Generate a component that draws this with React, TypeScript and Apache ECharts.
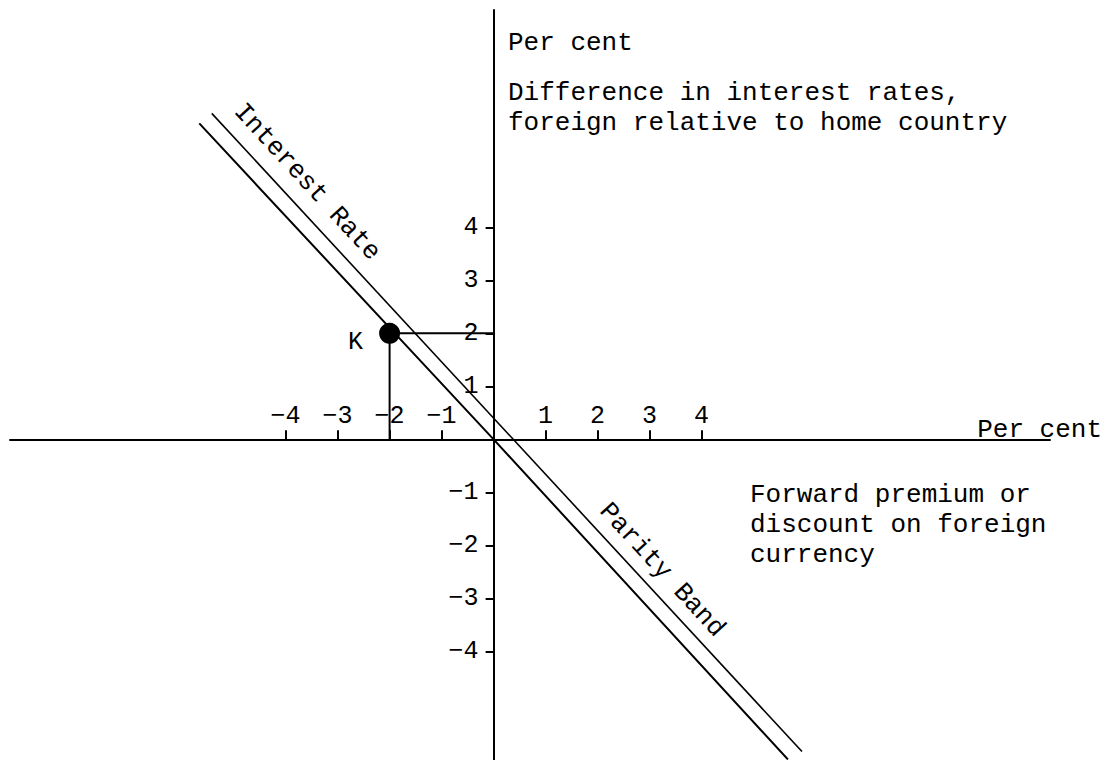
import React, { useEffect, useRef } from "react";
import * as echarts from "echarts";

// Tick values on each axis
const xTicks = [-4, -3, -2, -1, 1, 2, 3, 4];
const yTicks = [-4, -3, -2, -1, 1, 2, 3, 4];

// Two parallel lines of the interest rate parity band
const lowerBand = [
  [-5.66, 5.96],
  [0, 0],
  [5.66, -6.04],
];
const upperBand = [
  [-5.42, 6.15],
  [5.93, -5.89],
];

// Point K and its guide lines to the axes
const pointK = [-2, 2];
const guideK = [
  [-2, 0],
  [-2, 2],
  [0, 2],
];

const X_MIN = -9.3;
const X_MAX = 10.7;
const Y_MIN = -6.05;
const Y_MAX = 8.1;

const FONT = "'Liberation Mono', 'DejaVu Sans Mono', monospace";

const fmt = (v: number) => (v < 0 ? "\u2212" + Math.abs(v) : String(v));

export default function App() {
  const ref = useRef<HTMLDivElement>(null);

  useEffect(() => {
    if (!ref.current) return;
    const chart = echarts.init(ref.current, undefined, { renderer: "svg" });
    const black = "#000";
    const gLeft = 10;
    const gTop = 10;
    const gW = 1040;
    const gH = 750;
    // move axes so that they cross at the origin
    const xAxisOffset = -(gH * (0 - Y_MIN)) / (Y_MAX - Y_MIN);
    const yAxisOffset = -(gW * (0 - X_MIN)) / (X_MAX - X_MIN);
    chart.setOption({
      animation: false,
      backgroundColor: "#fff",
      grid: {
        left: gLeft,
        top: gTop,
        width: gW,
        height: gH,
        containLabel: false,
        outerBoundsMode: "none",
      },
      xAxis: {
        type: "value",
        position: "bottom",
        offset: xAxisOffset,
        min: X_MIN,
        max: X_MAX,
        splitLine: { show: false },
        axisLine: { show: true, onZero: false, lineStyle: { color: black, width: 2 } },
        axisTick: {
          show: true,
          inside: true,
          length: 9,
          customValues: xTicks,
          lineStyle: { color: black, width: 2 },
        },
        axisLabel: {
          show: true,
          inside: true,
          margin: 10,
          customValues: xTicks,
          formatter: fmt,
          color: black,
          fontSize: 25,
          fontFamily: FONT,
        },
      },
      yAxis: {
        type: "value",
        position: "left",
        offset: yAxisOffset,
        min: Y_MIN,
        max: Y_MAX,
        splitLine: { show: false },
        axisLine: { show: true, onZero: false, lineStyle: { color: black, width: 2 } },
        axisTick: {
          show: true,
          length: 8,
          customValues: yTicks,
          lineStyle: { color: black, width: 2 },
        },
        axisLabel: {
          show: true,
          margin: 15,
          customValues: yTicks,
          formatter: fmt,
          color: black,
          fontSize: 25,
          fontFamily: FONT,
        },
      },
      series: [
        {
          type: "line",
          data: lowerBand,
          showSymbol: false,
          clip: false,
          lineStyle: { color: black, width: 2 },
          silent: true,
        },
        {
          type: "line",
          data: upperBand,
          showSymbol: false,
          clip: false,
          lineStyle: { color: black, width: 1.6 },
          silent: true,
        },
        {
          type: "line",
          data: guideK,
          showSymbol: false,
          lineStyle: { color: black, width: 2 },
          silent: true,
        },
        {
          type: "scatter",
          data: [pointK],
          symbolSize: 21,
          itemStyle: { color: black, opacity: 1 },
          label: {
            show: true,
            position: "left",
            distance: 16,
            formatter: "K",
            color: black,
            fontSize: 25,
            fontFamily: FONT,
            offset: [0, 9],
          },
        },
      ],
      graphic: [
        {
          type: "text",
          x: 508,
          y: 43,
          style: {
            text: "Per cent",
            fill: black,
            fontSize: 26,
            fontFamily: FONT,
            textVerticalAlign: "middle",
          },
        },
        {
          type: "text",
          x: 508,
          y: 108,
          style: {
            text: "Difference in interest rates,\nforeign relative to home country",
            fill: black,
            fontSize: 26,
            lineHeight: 30,
            fontFamily: FONT,
            textVerticalAlign: "middle",
          },
        },
        {
          type: "text",
          x: 1102,
          y: 430,
          style: {
            text: "Per cent",
            fill: black,
            fontSize: 26,
            fontFamily: FONT,
            textAlign: "right",
            textVerticalAlign: "middle",
          },
        },
        {
          type: "text",
          x: 750,
          y: 525,
          style: {
            text: "Forward premium or\ndiscount on foreign\ncurrency",
            fill: black,
            fontSize: 26,
            lineHeight: 30,
            fontFamily: FONT,
            textVerticalAlign: "middle",
          },
        },
        {
          type: "text",
          x: 307,
          y: 182,
          rotation: -0.827,
          style: {
            text: "Interest Rate",
            fill: black,
            fontSize: 26,
            fontFamily: FONT,
            textAlign: "center",
            textVerticalAlign: "middle",
          },
        },
        {
          type: "text",
          x: 662,
          y: 570,
          rotation: -0.827,
          style: {
            text: "Parity Band",
            fill: black,
            fontSize: 26,
            fontFamily: FONT,
            textAlign: "center",
            textVerticalAlign: "middle",
          },
        },
      ],
    });
    return () => chart.dispose();
  }, []);

  return (
    <div
      ref={ref}
      style={{ position: "fixed", left: 0, top: 0, width: 1108, height: 760, background: "#fff" }}
    />
  );
}
